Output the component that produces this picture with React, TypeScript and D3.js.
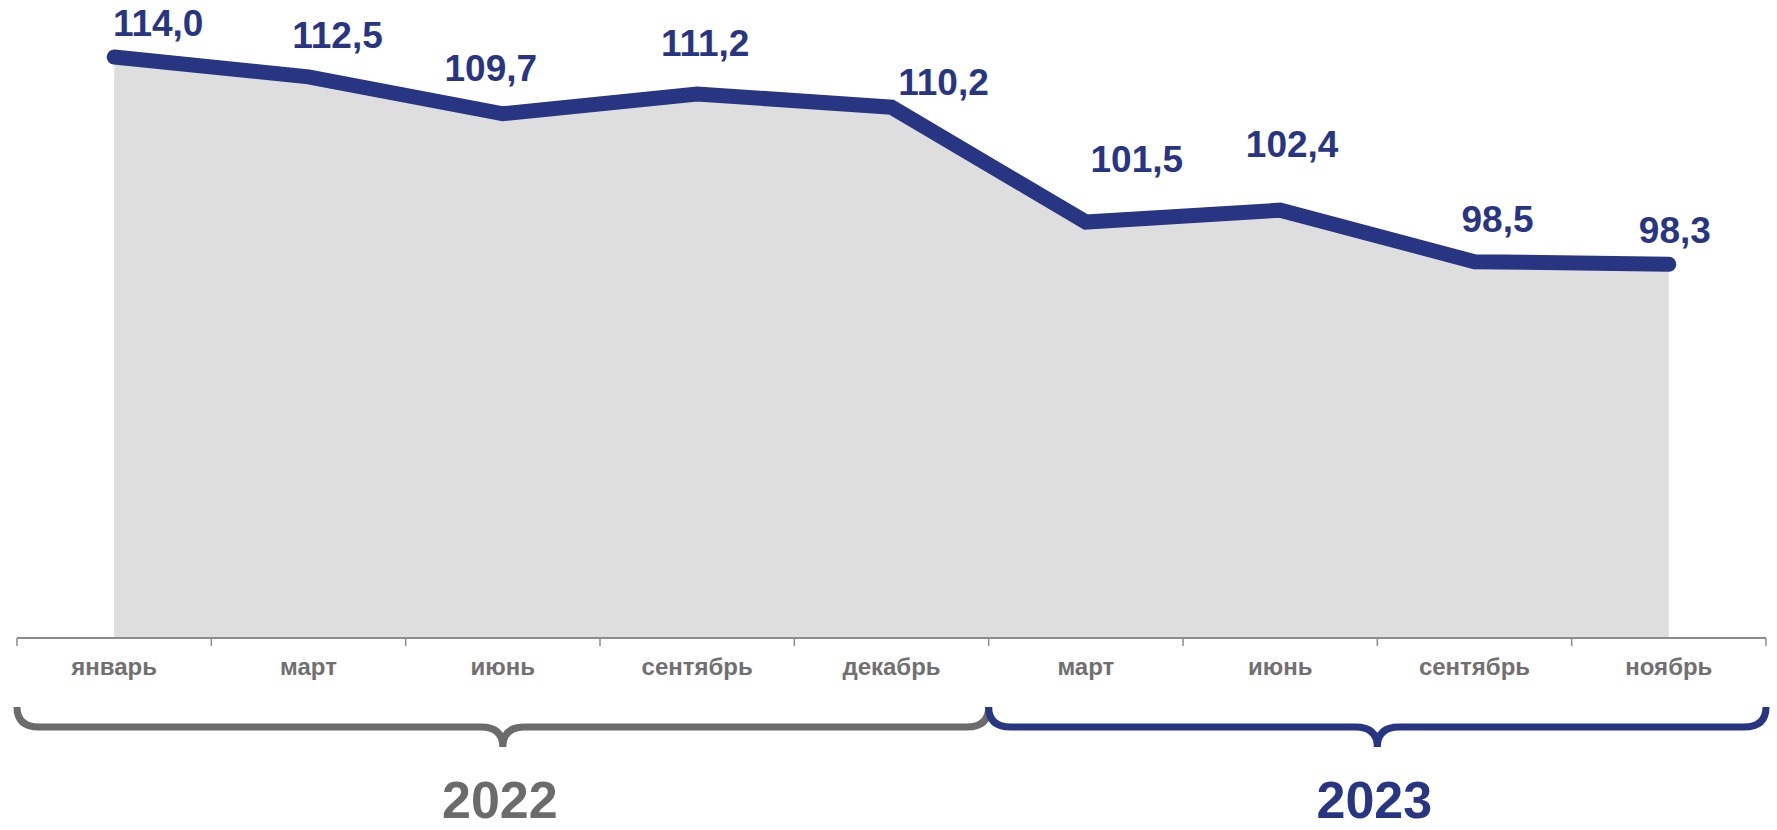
import { scaleBand, scaleLinear, line as d3line, area as d3area, formatLocale } from "d3";

const months = ["январь", "март", "июнь", "сентябрь", "декабрь", "март", "июнь", "сентябрь", "ноябрь"];
const values = [114.0, 112.5, 109.7, 111.2, 110.2, 101.5, 102.4, 98.5, 98.3];
const years = ["2022", "2023"];
const yearOfMonth = [0, 0, 0, 0, 0, 1, 1, 1, 1];

// manual label nudges (label centre / baseline relative to the point)
const labelDx = [44, 29, -12, 8, 52, 51, 12, 23, 6];
const labelDy = [-21, -29, -33, -38, -12, -50, -53, -30, -21];

const W = 1777;
const H = 830;
const NAVY = "#283582";
const GREY = "#6b6b6b";
const FONT = "'Liberation Sans', Arial, Helvetica, sans-serif";

const fmt = formatLocale({ decimal: ",", thousands: " ", grouping: [3], currency: ["", ""] }).format(".1f");

export default function App() {
  const idx = months.map((_, i) => i);

  const x = scaleBand<number>().domain(idx).range([17, 1766]).padding(0);
  const bw = x.bandwidth();
  const cx = (i: number) => (x(i) ?? 0) + bw / 2;

  const y = scaleLinear().domain([70, 114]).range([638, 57]);

  const line = d3line<number>()
    .x((_, i) => cx(i))
    .y((d) => y(d));

  const area = d3area<number>()
    .x((_, i) => cx(i))
    .y0(y(70))
    .y1((d) => y(d));

  const axisY = y(70);

  // brace geometry
  const braceTop = 707;
  const braceMid = 727;
  const braceTip = 747;
  const r = 22;

  const spans = years.map((_, yi) => {
    const members = idx.filter((i) => yearOfMonth[i] === yi);
    const x0 = x(members[0]) ?? 0;
    const x1 = (x(members[members.length - 1]) ?? 0) + bw;
    return { x0, x1, c: (x0 + x1) / 2 };
  });

  const bracePath = (x0: number, x1: number, c: number) =>
    `M${x0},${braceTop} Q${x0},${braceMid} ${x0 + r},${braceMid} L${c - r},${braceMid} Q${c},${braceMid} ${c},${braceTip} ` +
    `Q${c},${braceMid} ${c + r},${braceMid} L${x1 - r},${braceMid} Q${x1},${braceMid} ${x1},${braceTop}`;

  return (
    <div style={{ position: "absolute", left: 0, top: 0 }}>
      <svg width={W} height={H} viewBox={`0 0 ${W} ${H}`} style={{ display: "block", background: "#fff" }}>
        {/* Area */}
        <path d={area(values) ?? undefined} fill="#dedede" />

        {/* Axis */}
        <line x1={x(0)} x2={(x(idx.length - 1) ?? 0) + bw} y1={axisY} y2={axisY} stroke="#8c8c8c" strokeWidth={2} />
        {[...idx, idx.length].map((i) => {
          const tx = i < idx.length ? x(i) ?? 0 : (x(i - 1) ?? 0) + bw;
          return <line key={i} x1={tx} x2={tx} y1={axisY} y2={axisY + 8} stroke="#8c8c8c" strokeWidth={1.5} />;
        })}
        {months.map((m, i) => (
          <text
            key={i}
            x={cx(i)}
            y={675}
            textAnchor="middle"
            fontFamily={FONT}
            fontWeight="bold"
            fontSize={24}
            fill="#707070"
          >
            {m}
          </text>
        ))}

        {/* Line */}
        <path
          d={line(values) ?? undefined}
          fill="none"
          stroke={NAVY}
          strokeWidth={15}
          strokeLinecap="round"
          strokeLinejoin="miter"
        />

        {/* Value labels */}
        {values.map((v, i) => (
          <text
            key={i}
            x={cx(i) + labelDx[i]}
            y={y(v) + labelDy[i]}
            textAnchor="middle"
            fontFamily={FONT}
            fontWeight="bold"
            fontSize={37}
            fill={NAVY}
          >
            {fmt(v)}
          </text>
        ))}

        {/* Year braces */}
        {spans.map((s, yi) => (
          <g key={yi}>
            <path
              d={bracePath(s.x0, s.x1, s.c)}
              fill="none"
              stroke={yi === 0 ? GREY : NAVY}
              strokeWidth={7}
            />
            <text
              x={s.c - 3}
              y={818}
              textAnchor="middle"
              fontFamily={FONT}
              fontWeight="bold"
              fontSize={52}
              fill={yi === 0 ? GREY : NAVY}
            >
              {years[yi]}
            </text>
          </g>
        ))}
      </svg>
    </div>
  );
}
